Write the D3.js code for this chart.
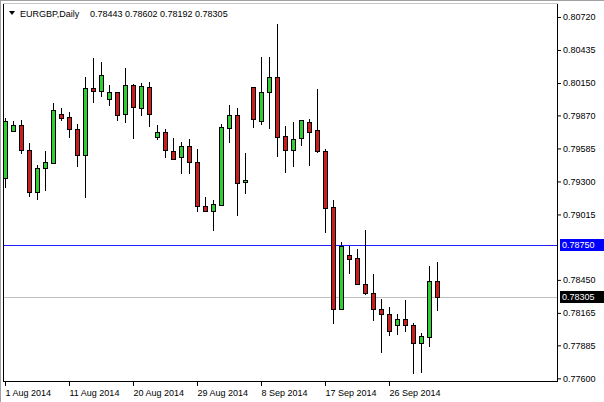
<!DOCTYPE html>
<html><head><meta charset="utf-8">
<script src="https://cdn.jsdelivr.net/npm/d3@7"></script>
<style>body{margin:0;background:#fff}svg{display:block}</style>
</head><body><svg id="c" width="604" height="402"></svg>
<script>
const symbol = "EURGBP,Daily";
const dates = ["2014-08-01","2014-08-03","2014-08-04","2014-08-05","2014-08-06","2014-08-07","2014-08-08",
"2014-08-10","2014-08-11","2014-08-12","2014-08-13","2014-08-14","2014-08-15",
"2014-08-17","2014-08-18","2014-08-19","2014-08-20","2014-08-21","2014-08-22",
"2014-08-24","2014-08-25","2014-08-26","2014-08-27","2014-08-28","2014-08-29",
"2014-08-31","2014-09-01","2014-09-02","2014-09-03","2014-09-04","2014-09-05",
"2014-09-07","2014-09-08","2014-09-09","2014-09-10","2014-09-11","2014-09-12",
"2014-09-14","2014-09-15","2014-09-16","2014-09-17","2014-09-18","2014-09-19",
"2014-09-21","2014-09-22","2014-09-23","2014-09-24","2014-09-25","2014-09-26",
"2014-09-28","2014-09-29","2014-09-30","2014-10-01","2014-10-02","2014-10-03"];
const opens = [0.79330,0.79735,0.79787,0.79571,0.79209,0.79416,0.79459,0.79882,0.79856,0.79753,
 0.79528,0.80107,0.80081,0.80012,0.80072,0.79882,0.80133,0.79934,0.80115,0.79684,
 0.79727,0.79563,0.79511,0.79606,0.79468,0.79088,0.79045,0.79096,0.79761,0.79874,
 0.79295,0.80115,0.79822,0.80072,0.80202,0.79692,0.79571,0.79675,0.79813,0.79744,
 0.79563,0.79079,0.78198,0.78665,0.78639,0.78414,0.78336,0.78198,0.78155,0.78060,
 0.78112,0.78060,0.77905,0.77956,0.78443];
const highs = [0.79848,0.79822,0.79830,0.79632,0.79442,0.79563,0.79977,0.79934,0.79900,0.79796,
 0.80202,0.80366,0.80331,0.80133,0.80072,0.80280,0.80141,0.80150,0.80159,0.79787,
 0.79753,0.79675,0.79640,0.79666,0.79580,0.79166,0.79140,0.79796,0.79960,0.79934,
 0.79546,0.80115,0.80375,0.80375,0.80660,0.79779,0.79813,0.79830,0.79839,0.80098,
 0.79580,0.79140,0.78777,0.78742,0.78716,0.78881,0.78501,0.78285,0.78216,0.78155,
 0.78276,0.78077,0.77991,0.78570,0.78602];
const lows = [0.79252,0.79735,0.79546,0.79174,0.79148,0.79226,0.79459,0.79830,0.79684,0.79433,
 0.79166,0.79986,0.80038,0.79960,0.79830,0.79813,0.79675,0.79874,0.79779,0.79666,
 0.79511,0.79494,0.79373,0.79373,0.79045,0.79045,0.78881,0.79096,0.79640,0.79010,
 0.79200,0.79770,0.79796,0.79761,0.79520,0.79381,0.79433,0.79615,0.79442,0.79554,
 0.78863,0.78077,0.78198,0.78509,0.78414,0.78328,0.78103,0.77827,0.77974,0.77982,
 0.78008,0.77646,0.77654,0.77879,0.78192];
const closes = [0.79822,0.79787,0.79571,0.79209,0.79416,0.79468,0.79917,0.79848,0.79753,0.79528,
 0.80107,0.80081,0.80219,0.80072,0.79874,0.80133,0.79943,0.80124,0.79882,0.79727,
 0.79571,0.79494,0.79606,0.79468,0.79088,0.79045,0.79105,0.79770,0.79874,0.79286,
 0.79312,0.79839,0.80072,0.80202,0.79684,0.79571,0.79666,0.79830,0.79727,0.79563,
 0.79071,0.78198,0.78742,0.78630,0.78414,0.78336,0.78198,0.78155,0.78008,0.78112,
 0.78060,0.77905,0.77965,0.78440,0.78305];
const priceTicks = [0.80720,0.80435,0.80150,0.79870,0.79585,0.79300,0.79015,0.78450,0.78165,0.77885,0.77600];
const dateTicks = ["2014-08-01","2014-08-11","2014-08-20","2014-08-29","2014-09-08","2014-09-17","2014-09-26"];
const dateTickLabels = ["1 Aug 2014","11 Aug 2014","20 Aug 2014","29 Aug 2014","8 Sep 2014","17 Sep 2014","26 Sep 2014"];
const hLinePrice = 0.78750;
const bidPrice = 0.78305;

const svg = d3.select("#c");
const FONT = "Liberation Sans, Arial, sans-serif";
const L = 3, R = 557, T = 3, B = 381;

const x = d3.scalePoint().domain(dates).range([5, 437]);
const y = d3.scaleLinear().domain([0.77577, 0.80832]).range([381, 4]);

svg.append("rect").attr("width",604).attr("height",402).attr("fill","#fff");
// outer edges
svg.append("line").attr("x1",0).attr("x2",604).attr("y1",0.5).attr("y2",0.5).attr("stroke","#a0a0a0");
svg.append("line").attr("x1",0.5).attr("x2",0.5).attr("y1",0).attr("y2",402).attr("stroke","#a0a0a0");

svg.append("defs").append("clipPath").attr("id","plot")
  .append("rect").attr("x",L+1).attr("y",T+1).attr("width",R-L-1).attr("height",B-T-1);
const g = svg.append("g").attr("clip-path","url(#plot)");

// horizontal lines
g.append("rect").attr("x",L+1).attr("width",R-L-1).attr("y",Math.round(y(bidPrice))).attr("height",1)
  .attr("fill","#c0c0c0");
g.append("rect").attr("x",L+1).attr("width",R-L-1).attr("y",Math.round(y(hLinePrice))).attr("height",1)
  .attr("fill","#2020ff");

const idx = d3.range(dates.length);
const cg = g.selectAll("g.c").data(idx).join("g").attr("class","c");
cg.append("line")
  .attr("x1", i => Math.round(x(dates[i])) + 0.5)
  .attr("x2", i => Math.round(x(dates[i])) + 0.5)
  .attr("y1", i => Math.round(y(highs[i])))
  .attr("y2", i => Math.round(y(lows[i])) + 1)
  .attr("stroke", "#000");
cg.append("rect")
  .attr("x", i => Math.round(x(dates[i])) - 1.5)
  .attr("width", 4)
  .attr("y", i => Math.round(y(Math.max(opens[i], closes[i]))) + 0.5)
  .attr("height", i => Math.max(1, Math.round(y(Math.min(opens[i], closes[i]))) - Math.round(y(Math.max(opens[i], closes[i])))))
  .attr("fill", i => closes[i] >= opens[i] ? "#32cd32" : "#c81e1e")
  .attr("stroke", "#000");

// frame
svg.append("line").attr("x1",L+0.5).attr("x2",L+0.5).attr("y1",T).attr("y2",B+1).attr("stroke","#000");
svg.append("line").attr("x1",R+0.5).attr("x2",R+0.5).attr("y1",T).attr("y2",B+1).attr("stroke","#000");
svg.append("line").attr("x1",L).attr("x2",R+1).attr("y1",B+0.5).attr("y2",B+0.5).attr("stroke","#000");
svg.append("line").attr("x1",L).attr("x2",R+1).attr("y1",T+0.5).attr("y2",T+0.5).attr("stroke","#c8c8c8");

// right axis
const ya = svg.append("g").attr("transform",`translate(${R+1},0)`)
  .call(d3.axisRight(y).tickValues(priceTicks).tickFormat(d3.format(".5f")).tickSize(3).tickPadding(2));
ya.select(".domain").remove();
ya.selectAll("text").attr("font-family",FONT).attr("font-size","9px").attr("fill","#000");

// bottom axis
const xa = svg.append("g").attr("transform",`translate(0,${B+1})`)
  .call(d3.axisBottom(x).tickValues(dateTicks).tickFormat((d,i)=>dateTickLabels[i]).tickSize(4).tickPadding(4));
xa.select(".domain").remove();
xa.selectAll("text").attr("font-family",FONT).attr("font-size","9px").attr("fill","#000")
  .attr("text-anchor","start").attr("x",0);

// price label boxes
function priceBox(p, bg){
  const yy = Math.round(y(p));
  svg.append("rect").attr("x",R+3).attr("y",yy-6).attr("width",604-R-3).attr("height",12).attr("fill",bg);
  svg.append("text").attr("x",R+5).attr("y",yy).attr("dy","0.35em")
    .attr("font-family",FONT).attr("font-size","9px").attr("fill","#fff").text(d3.format(".5f")(p));
}
priceBox(hLinePrice, "#0000ff");
priceBox(bidPrice, "#000");

// title
const last = dates.length - 1;
svg.append("path").attr("d","M9,11 L15,11 L12,15 Z").attr("fill","#000");
svg.append("text").attr("x",20).attr("y",17).attr("font-family",FONT).attr("font-size","9px").attr("fill","#000").text(symbol);
svg.append("text").attr("x",90).attr("y",17).attr("font-family",FONT).attr("font-size","9px").attr("fill","#000")
  .text([opens[last],highs[last],lows[last],closes[last]].map(d3.format(".5f")).join(" "));
</script></body></html>
